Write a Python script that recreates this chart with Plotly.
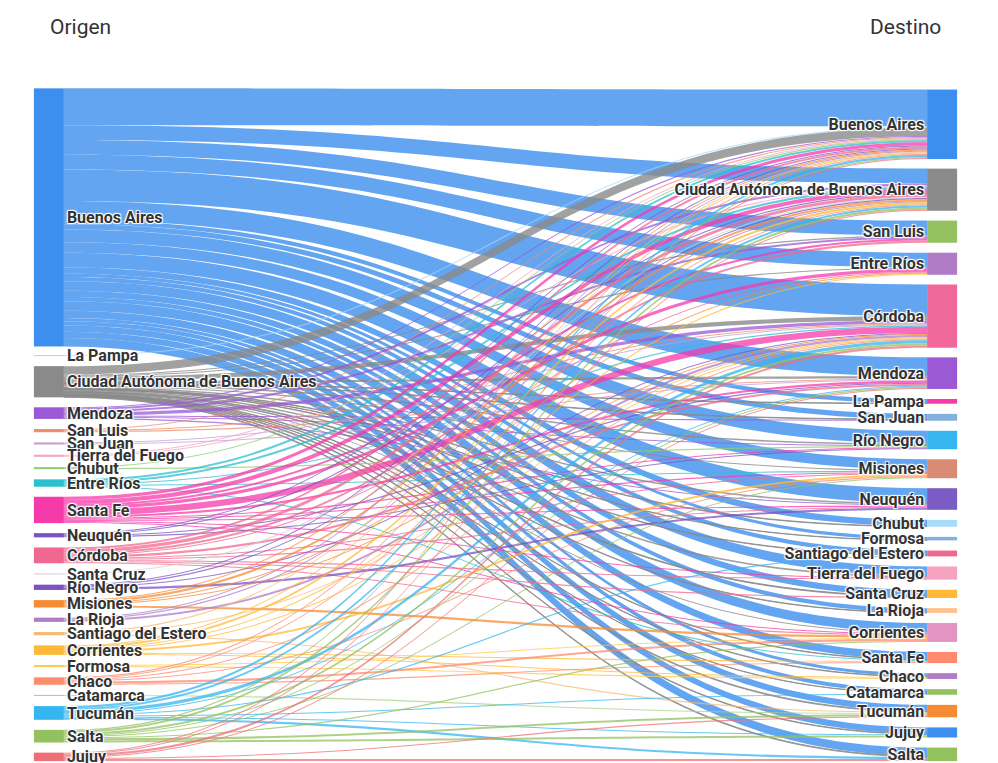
import plotly.graph_objects as go

# provincias de origen (columna izquierda) y destino (columna derecha)
origenes = ["Buenos Aires", "La Pampa", "Ciudad Autónoma de Buenos Aires", "Mendoza", "San Luis",
            "San Juan", "Tierra del Fuego", "Chubut", "Entre Ríos", "Santa Fe", "Neuquén", "Córdoba",
            "Santa Cruz", "Río Negro", "Misiones", "La Rioja", "Santiago del Estero", "Corrientes",
            "Formosa", "Chaco", "Catamarca", "Tucumán", "Salta", "Jujuy"]
destinos = ["Buenos Aires", "Ciudad Autónoma de Buenos Aires", "San Luis", "Entre Ríos", "Córdoba",
            "Mendoza", "La Pampa", "San Juan", "Río Negro", "Misiones", "Neuquén", "Chubut", "Formosa",
            "Santiago del Estero", "Tierra del Fuego", "Santa Cruz", "La Rioja", "Corrientes",
            "Santa Fe", "Chaco", "Catamarca", "Tucumán", "Jujuy", "Salta"]

color_origen = ["#3d8fef", "#a6d8f5", "#8a8a8a", "#9b59d6", "#f08c6c", "#c0a0d8", "#f5a3c0", "#8fcf6f",
                "#2cbfcf", "#f53aa9", "#7b52c4", "#f0688f", "#d0d0d0", "#7b52c4", "#f68b34", "#b07cc6",
                "#f5b975", "#ffb936", "#ffc94a", "#ff8a6d", "#a5d48a", "#36b6f0", "#94c15f", "#ef6f78"]
color_destino = ["#3d8fef", "#8a8a8a", "#94c15f", "#b07cc6", "#f0689a", "#9b59d6", "#f53aa9", "#84b0e0",
                 "#36b6f0", "#d98b73", "#7b5cc4", "#a6dcf7", "#84b0e0", "#f0688f", "#f5a3c0", "#ffb936",
                 "#ffc08a", "#e394c2", "#ff8a6d", "#b07cc6", "#94c15f", "#f68b34", "#3d8fef", "#94c15f"]

# flujos: origen -> {destino: valor}
flujos = {
    "Buenos Aires": {"Buenos Aires": 35, "Ciudad Autónoma de Buenos Aires": 14, "San Luis": 14,
                     "Entre Ríos": 14, "Córdoba": 30, "Mendoza": 18, "La Pampa": 4, "San Juan": 5,
                     "Río Negro": 12, "Misiones": 10, "Neuquén": 14, "Chubut": 6, "Formosa": 3,
                     "Santiago del Estero": 4, "Tierra del Fuego": 9, "Santa Cruz": 6, "La Rioja": 4,
                     "Corrientes": 9, "Santa Fe": 7, "Chaco": 3, "Catamarca": 4, "Tucumán": 6,
                     "Jujuy": 6, "Salta": 8},
    "La Pampa": {"Buenos Aires": 1},
    "Ciudad Autónoma de Buenos Aires": {"Buenos Aires": 8, "San Luis": 1, "Entre Ríos": 1, "Córdoba": 4,
                     "Mendoza": 2, "La Pampa": 0.5, "San Juan": 0.5, "Río Negro": 1.5, "Misiones": 1,
                     "Neuquén": 1.5, "Chubut": 0.5, "Formosa": 0.3, "Santiago del Estero": 0.5,
                     "Tierra del Fuego": 1.5, "Santa Cruz": 0.8, "La Rioja": 0.5, "Corrientes": 1,
                     "Santa Fe": 0.5, "Chaco": 0.5, "Catamarca": 0.3, "Tucumán": 0.8, "Jujuy": 0.6,
                     "Salta": 0.8},
    "Mendoza": {"Buenos Aires": 1, "Ciudad Autónoma de Buenos Aires": 2, "San Luis": 2, "Córdoba": 3,
                "San Juan": 1, "Neuquén": 1, "Río Negro": 1},
    "San Luis": {"Córdoba": 1, "Mendoza": 1, "Buenos Aires": 1},
    "San Juan": {"Mendoza": 1, "Córdoba": 1},
    "Tierra del Fuego": {"Buenos Aires": 1, "Ciudad Autónoma de Buenos Aires": 1},
    "Chubut": {"Buenos Aires": 1, "Río Negro": 1},
    "Entre Ríos": {"Buenos Aires": 2, "Ciudad Autónoma de Buenos Aires": 2, "Santa Fe": 1, "Córdoba": 1,
                   "Misiones": 1},
    "Santa Fe": {"Buenos Aires": 3, "Ciudad Autónoma de Buenos Aires": 4, "San Luis": 2, "Entre Ríos": 3,
                 "Córdoba": 6, "Mendoza": 2, "Río Negro": 1, "Misiones": 1, "Neuquén": 1,
                 "Tierra del Fuego": 1, "Corrientes": 1},
    "Neuquén": {"Buenos Aires": 1, "Ciudad Autónoma de Buenos Aires": 1, "Río Negro": 1, "Mendoza": 1},
    "Córdoba": {"Buenos Aires": 2, "Ciudad Autónoma de Buenos Aires": 3, "San Luis": 2, "Entre Ríos": 1,
                "Mendoza": 2, "Misiones": 1, "Neuquén": 1, "Tierra del Fuego": 1, "Santa Cruz": 1,
                "Corrientes": 1},
    "Santa Cruz": {"Ciudad Autónoma de Buenos Aires": 1},
    "Río Negro": {"Buenos Aires": 1, "Ciudad Autónoma de Buenos Aires": 1, "Neuquén": 2, "Córdoba": 1},
    "Misiones": {"Buenos Aires": 1, "Ciudad Autónoma de Buenos Aires": 2, "Córdoba": 1, "Corrientes": 2,
                 "Entre Ríos": 1},
    "La Rioja": {"Córdoba": 2, "Buenos Aires": 1, "Ciudad Autónoma de Buenos Aires": 1},
    "Santiago del Estero": {"Córdoba": 1, "Tucumán": 1, "Buenos Aires": 1},
    "Corrientes": {"Buenos Aires": 1, "Ciudad Autónoma de Buenos Aires": 2, "Córdoba": 1, "Misiones": 2,
                   "Chaco": 1, "Santa Fe": 1, "Entre Ríos": 1},
    "Formosa": {"Corrientes": 1, "Chaco": 1},
    "Chaco": {"Buenos Aires": 1, "Ciudad Autónoma de Buenos Aires": 1, "Córdoba": 1, "Corrientes": 2,
              "Santa Fe": 1, "Misiones": 1},
    "Catamarca": {"Tucumán": 1},
    "Tucumán": {"Buenos Aires": 2, "Ciudad Autónoma de Buenos Aires": 2, "Córdoba": 3, "Salta": 2,
                "Jujuy": 1, "Santiago del Estero": 1, "Catamarca": 1, "Mendoza": 1},
    "Salta": {"Buenos Aires": 1, "Ciudad Autónoma de Buenos Aires": 2, "Córdoba": 2, "Jujuy": 2,
              "Tucumán": 2, "Mendoza": 1, "Misiones": 1, "Corrientes": 1},
    "Jujuy": {"Buenos Aires": 1, "Ciudad Autónoma de Buenos Aires": 1, "Córdoba": 2, "Salta": 2,
              "Tucumán": 1, "Mendoza": 1},
}


def hex_rgba(h, a):
    h = h.lstrip("#")
    return f"rgba({int(h[0:2], 16)},{int(h[2:4], 16)},{int(h[4:6], 16)},{a})"


n_o = len(origenes)
sources, targets, values, link_colors = [], [], [], []
for i, o in enumerate(origenes):
    for d, v in flujos[o].items():
        sources.append(i)
        targets.append(n_o + destinos.index(d))
        values.append(v)
        alpha = 0.8 if o in ("Buenos Aires", "Ciudad Autónoma de Buenos Aires") else 0.75
        link_colors.append(hex_rgba(color_origen[i], alpha))

tot_o = [sum(flujos[o].values()) for o in origenes]
tot_d = [0] * len(destinos)
for t, v in zip(targets, values):
    tot_d[t - n_o] += v

# posiciones verticales de los nodos (centro, fracción del alto)
H = 655.0
pad = 10.0
ky = (H - (len(origenes) - 1) * pad) / max(sum(tot_o), sum(tot_d))


def column_y(tots):
    ys, cum = [], 0.0
    for t in tots:
        h = t * ky
        ys.append((cum + h / 2) / H)
        cum += h + pad
    return ys


node_x = [0.001] * n_o + [0.999] * len(destinos)
node_y = column_y(tot_o) + column_y(tot_d)

fig = go.Figure(go.Sankey(
    arrangement="fixed",
    node=dict(
        label=origenes + destinos,
        color=color_origen + color_destino,
        x=node_x,
        y=node_y,
        pad=pad,
        thickness=30,
        line=dict(width=0),
        hovertemplate="%{label}: %{value}<extra></extra>",
    ),
    link=dict(source=sources, target=targets, value=values, color=link_colors),
    textfont=dict(family="Roboto", size=16, color="#333333", weight="bold"),
))

fig.add_annotation(text="Origen", x=0, y=1.115, xref="paper", yref="paper", xanchor="left",
                   showarrow=False, font=dict(family="Roboto", size=21, color="#333333"))
fig.add_annotation(text="Destino", x=1, y=1.115, xref="paper", yref="paper", xanchor="right",
                   showarrow=False, font=dict(family="Roboto", size=21, color="#333333"))

fig.update_layout(
    width=998, height=763,
    margin=dict(l=40, r=63, t=82, b=10),
    paper_bgcolor="white",
    font=dict(family="Roboto"),
)
fig.write_html("out.html")
